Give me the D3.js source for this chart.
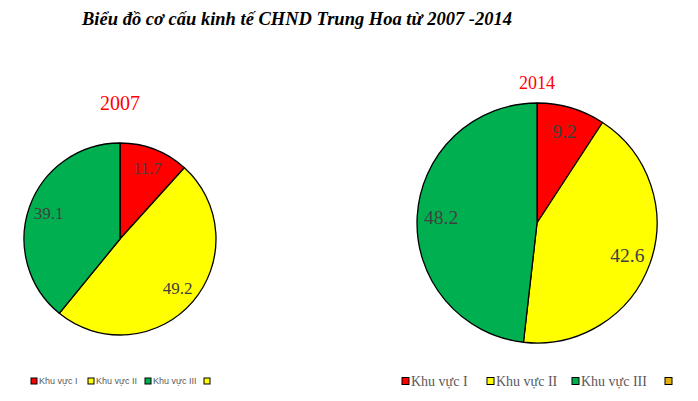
<!DOCTYPE html>
<html><head><meta charset="utf-8">
<script src="https://cdn.jsdelivr.net/npm/d3@7"></script>
<style>body{margin:0;background:#fff}svg{display:block}</style>
</head><body>
<script>
const categories = ["Khu vực I", "Khu vực II", "Khu vực III", ""];
const years = ["2007", "2014"];
const values2007 = [11.7, 49.2, 39.1, 0];
const values2014 = [9.2, 42.6, 48.2, 0];
const colors2007 = ["#ff0000", "#ffff00", "#00b050", "#ffff00"];
const colors2014 = ["#ff0000", "#ffff00", "#00b050", "#e6b000"];

const W = 698, H = 401;
const svg = d3.select("body").append("svg").attr("width", W).attr("height", H);

svg.append("text").attr("x", 297).attr("y", 25).attr("text-anchor", "middle")
  .attr("font-family", "Liberation Serif, serif").attr("font-weight", "bold").attr("font-style", "italic")
  .attr("font-size", 18.5).attr("fill", "#000")
  .text("Biểu đồ cơ cấu kinh tế CHND Trung Hoa từ 2007 -2014");

const charts = [
  {year: years[0], values: values2007, colors: colors2007, cx: 120, cy: 239, r: 96, titleY: 110, titleSize: 20, labelSize: 17, labelR: 0.79,
   legend: {y: 381, font: "Liberation Sans, sans-serif", size: 9, xs: [31, 88, 145, 204], sq: 6}},
  {year: years[1], values: values2014, colors: colors2014, cx: 537, cy: 223, r: 120, titleY: 89, titleSize: 18, labelSize: 19.5, labelR: 0.8,
   legend: {y: 381, font: "Liberation Serif, serif", size: 14, xs: [402, 487, 572, 665], sq: 7}}
];

charts.forEach(c => {
  const g = svg.append("g").attr("transform", `translate(${c.cx},${c.cy})`);
  const pie = d3.pie().sort(null).value(d => d)(c.values);
  const arc = d3.arc().innerRadius(0).outerRadius(c.r);
  const lab = d3.arc().innerRadius(c.r * c.labelR).outerRadius(c.r * c.labelR);
  g.selectAll("path").data(pie.filter(d => d.value > 0)).join("path")
    .attr("d", arc).attr("fill", d => c.colors[d.index])
    .attr("stroke", "#000").attr("stroke-width", 1.3).attr("stroke-linejoin", "round");
  g.selectAll("text").data(pie.filter(d => d.value > 0)).join("text")
    .attr("transform", d => `translate(${lab.centroid(d)})`)
    .attr("text-anchor", "middle").attr("dy", "0.35em")
    .attr("font-family", "Liberation Serif, serif").attr("font-size", c.labelSize).attr("fill", "#404040")
    .text(d => d.value.toFixed(1));
  svg.append("text").attr("x", c.cx).attr("y", c.titleY).attr("text-anchor", "middle")
    .attr("font-family", "Liberation Serif, serif").attr("font-size", c.titleSize).attr("fill", "#ff0000")
    .text(c.year);
  const L = c.legend;
  categories.forEach((cat, i) => {
    const x = L.xs[i];
    svg.append("rect").attr("x", x).attr("y", L.y - L.sq / 2).attr("width", L.sq).attr("height", L.sq)
      .attr("fill", c.colors[i]).attr("stroke", "#000").attr("stroke-width", 1);
    svg.append("text").attr("x", x + L.sq + 2).attr("y", L.y).attr("dy", "0.35em")
      .attr("font-family", L.font).attr("font-size", L.size).attr("fill", "#595959").text(cat);
  });
});
</script>
</body></html>
